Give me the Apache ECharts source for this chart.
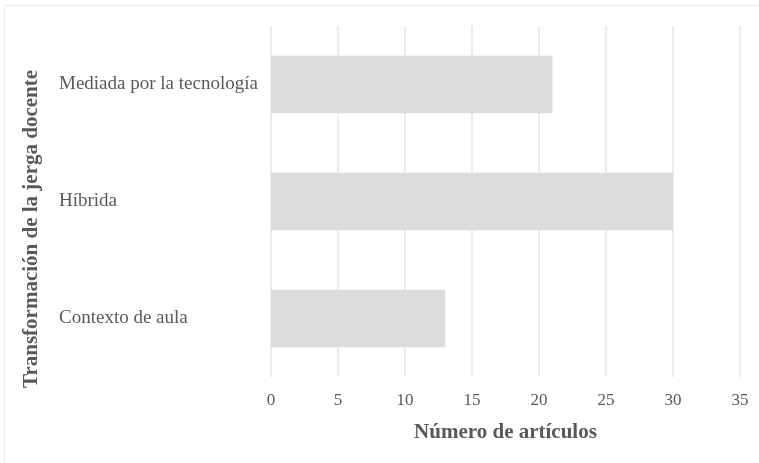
<!DOCTYPE html>
<html><head><meta charset="utf-8">
<script src="https://cdn.jsdelivr.net/npm/echarts@6/dist/echarts.min.js"></script>
<style>html,body{margin:0;padding:0;background:#fff}#c{width:759px;height:463px}</style>
</head><body><div id="c"></div>
<script>
const categories = ['Contexto de aula', 'Híbrida', 'Mediada por la tecnología'];
const values = [13, 30, 21];
const xTicks = [0, 5, 10, 15, 20, 25, 30, 35];
const xName = 'Número de artículos';
const yName = 'Transformación de la jerga docente';

const chart = echarts.init(document.getElementById('c'));
const font = '"Liberation Serif", "DejaVu Serif", serif';
chart.setOption({
  animation: false,
  backgroundColor: '#fff',
  grid: { left: 271, right: 19, top: 26, bottom: 86 },
  xAxis: {
    type: 'value', min: xTicks[0], max: xTicks[xTicks.length - 1], interval: 5,
    name: xName, nameLocation: 'middle', nameGap: 45,
    nameTextStyle: { fontFamily: font, fontSize: 21, fontWeight: 'bold', color: '#595959' },
    axisLine: { show: false }, axisTick: { show: false },
    axisLabel: { fontFamily: font, fontSize: 17, color: '#595959', margin: 15 },
    splitLine: { lineStyle: { color: '#e6e6e6', width: 1.5 } }
  },
  yAxis: {
    type: 'category', data: categories,
    axisLine: { show: false }, axisTick: { show: false },
    axisLabel: { fontFamily: font, fontSize: 19, color: '#595959', align: 'left', margin: 212 }
  },
  series: [{
    type: 'bar', data: values, barWidth: '49%',
    itemStyle: { color: '#dcdcdc' }
  }],
  graphic: [
    { type: 'line', shape: { x1: 5, y1: 5.5, x2: 759, y2: 5.5 }, style: { stroke: '#ececec', lineWidth: 1 } },
    { type: 'line', shape: { x1: 4.5, y1: 5, x2: 4.5, y2: 463 }, style: { stroke: '#ececec', lineWidth: 1 } },
    { type: 'text', x: 32, y: 229, rotation: Math.PI / 2,
      style: { text: yName, fontFamily: font, fontSize: 21, fontWeight: 'bold', fill: '#595959', align: 'center', verticalAlign: 'middle' } }
  ]
});
</script></body></html>
